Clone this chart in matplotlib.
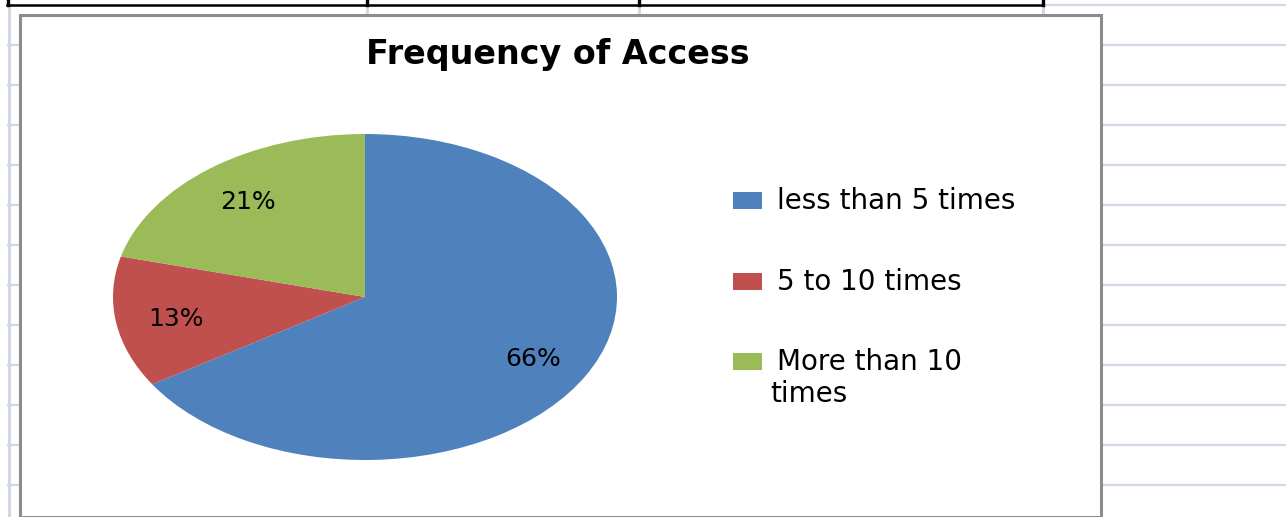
import matplotlib.pyplot as plt
from matplotlib.patches import Rectangle

categories = ["less than 5 times", "5 to 10 times", "More than 10\ntimes"]
shares = [66, 13, 21]
colors = ["#4F81BD", "#C0504D", "#9BBB59"]

W, H = 1286, 517
fig = plt.figure(figsize=(W / 100, H / 100), dpi=100)

def fx(px):
    return px / W

def fy(py):
    return (H - py) / H

# spreadsheet background behind the chart object
bg = fig.add_axes([0, 0, 1, 1])
bg.set_xlim(0, W)
bg.set_ylim(H, 0)
bg.axis("off")
grid_c = "#D0D7E5"
for y in range(45, H, 40):
    bg.plot([8, W], [y, y], color=grid_c, lw=1.6, zorder=1)
bg.plot([1043, W], [5, 5], color=grid_c, lw=1.6, zorder=1)
bg.plot([8.5, 8.5], [5, H], color=grid_c, lw=2.2, zorder=1)
for x in [367, 639, 1043]:
    bg.plot([x, x], [5, 14], color=grid_c, lw=2.2, zorder=1)
# bordered header cells above
bg.plot([7, 1043], [4.5, 4.5], color="black", lw=1.8, zorder=2)
for x in [7.5, 367, 639, 1043]:
    bg.plot([x, x], [0, 5], color="black", lw=2.4, zorder=2)

# chart area
bg.add_patch(Rectangle((19.5, 14.5), 1081, 502, facecolor="white",
                       edgecolor="#8C8C8C", lw=2.2, zorder=3))

fig.text(fx(558), fy(64), "Frequency of Access", ha="center", va="baseline",
         fontsize=24, fontweight="bold", color="black")

# pie, stretched horizontally like the original
cx, cy, rx, ry = 365, 297, 252, 163
ax = fig.add_axes([fx(cx - rx), fy(cy + ry), 2 * rx / W, 2 * ry / H])
wedges, texts, autotexts = ax.pie(
    shares, colors=colors, startangle=90, counterclock=False,
    autopct="%1.0f%%", pctdistance=0.76,
    textprops={"fontsize": 18, "color": "black"})
for t in autotexts:
    t.set_va("center_baseline")
ax.set_aspect("auto")
ax.set_xlim(-1, 1)
ax.set_ylim(-1, 1)
ax.axis("off")

# legend on the right: swatch + label, wrapped lines sit a bit to the left
for i, (lab, col) in enumerate(zip(categories, colors)):
    base = 209 + 80.5 * i
    fig.patches.append(Rectangle((fx(733), fy(base)), 29 / W, 17 / H,
                                 facecolor=col, edgecolor="none",
                                 transform=fig.transFigure, figure=fig))
    for k, line in enumerate(lab.split("\n")):
        fig.text(fx(777 if k == 0 else 770), fy(base + 32 * k), line,
                 ha="left", va="baseline", fontsize=20, color="black")

fig.savefig("out.png", dpi=100)
